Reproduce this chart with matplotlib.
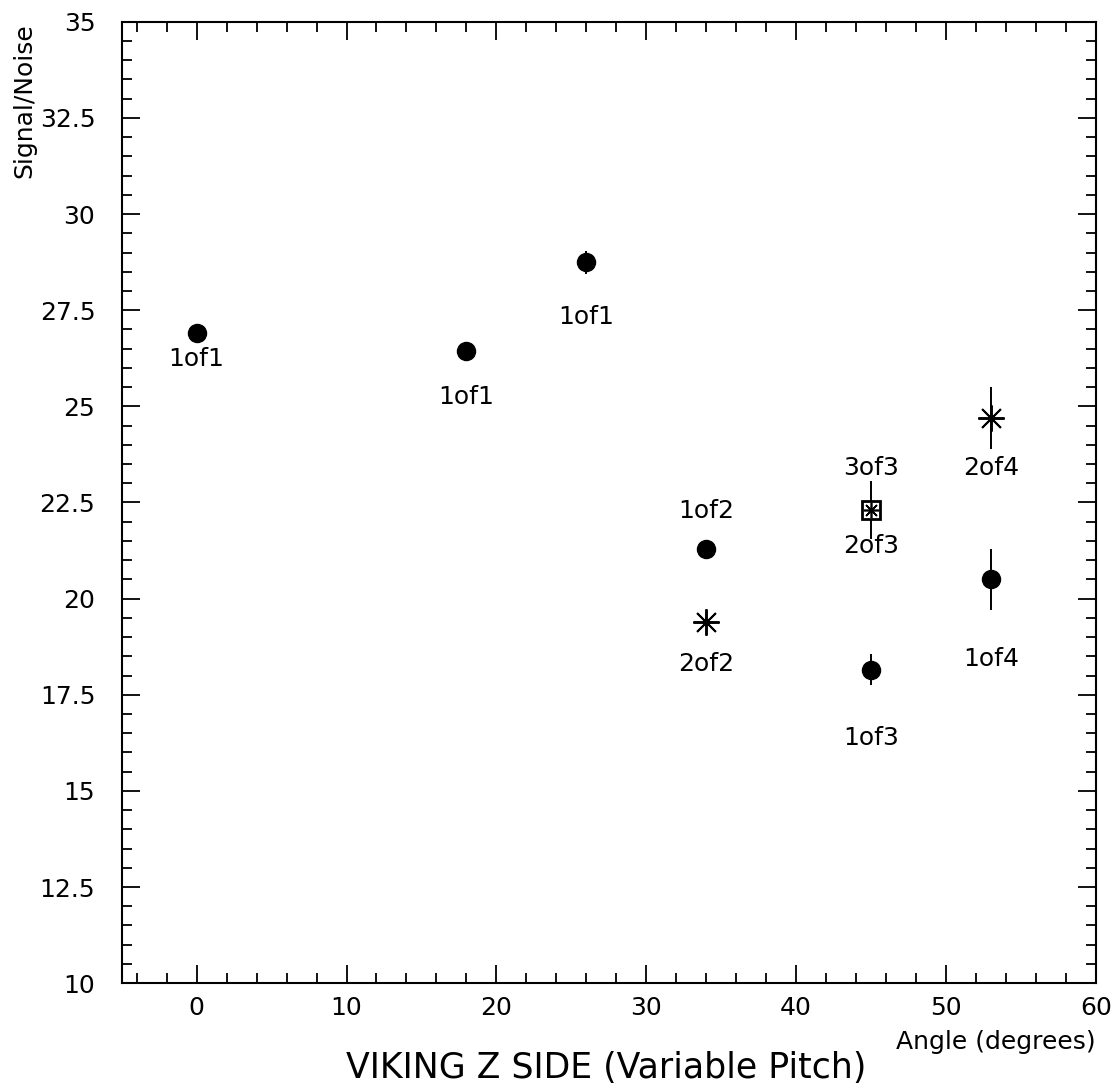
import matplotlib
matplotlib.use('Agg')
import matplotlib.pyplot as plt
from matplotlib.ticker import MultipleLocator

# données
angle_rond = [0, 18, 26, 34, 45, 53]
sn_rond = [26.9, 26.45, 28.75, 21.3, 18.15, 20.5]
err_rond = [0.25, 0.15, 0.3, 0.2, 0.4, 0.8]
etiq_rond = ['1of1', '1of1', '1of1', '1of2', '1of3', '1of4']
decal_rond = [-26, -46, -55, 38, -68, -80]

angle_etoile = [34, 53]
sn_etoile = [19.4, 24.7]
err_etoile = [0.1, 0.8]
etiq_etoile = ['2of2', '2of4']
decal_etoile = [-42, -50]

angle_boite = [45]
sn_boite = [22.3]
err_boite = [0.75]
etiq_boite = ['2of3']
decal_boite = [-36]
etiq_boite_haut = '3of3'

fig = plt.figure(figsize=(11.17, 10.90), dpi=100)
ax = fig.add_axes([0.109, 0.098, 0.872, 0.882])

# points ronds
ax.errorbar(angle_rond, sn_rond, yerr=err_rond, fmt='o', color='black',
            markersize=13, elinewidth=1.4, capsize=0)
# étoiles
ax.errorbar(angle_etoile, sn_etoile, yerr=err_etoile, fmt='none', ecolor='black',
            elinewidth=1.4, capsize=0)
ax.plot(angle_etoile, sn_etoile, linestyle='none', marker=(8, 2, 0),
        markersize=19, color='black', markeredgewidth=1.4)
# carré avec étoile
ax.errorbar(angle_boite, sn_boite, yerr=err_boite, fmt='none', ecolor='black',
            elinewidth=1.4, capsize=0)
ax.plot(angle_boite, sn_boite, linestyle='none', marker='s', markersize=13,
        markerfacecolor='white', markeredgecolor='black', markeredgewidth=2)
ax.plot(angle_boite, sn_boite, linestyle='none', marker=(8, 2, 0),
        markersize=11, color='black', markeredgewidth=1.2)

# étiquettes
for x, y, t, d in zip(angle_rond, sn_rond, etiq_rond, decal_rond):
    ax.annotate(t, (x, y), xytext=(0, d), textcoords='offset pixels',
                ha='center', va='center', fontsize=18)
for x, y, t, d in zip(angle_etoile, sn_etoile, etiq_etoile, decal_etoile):
    ax.annotate(t, (x, y), xytext=(0, d), textcoords='offset pixels',
                ha='center', va='center', fontsize=18)
for x, y, t, d in zip(angle_boite, sn_boite, etiq_boite, decal_boite):
    ax.annotate(t, (x, y), xytext=(0, d), textcoords='offset pixels',
                ha='center', va='center', fontsize=18)
ax.annotate(etiq_boite_haut, (angle_boite[0], sn_boite[0]), xytext=(0, 42),
            textcoords='offset pixels', ha='center', va='center', fontsize=18)

ax.set_xlim(-5, 60)
ax.set_ylim(10, 35)
ax.xaxis.set_major_locator(MultipleLocator(10))
ax.xaxis.set_minor_locator(MultipleLocator(2))
ax.yaxis.set_major_locator(MultipleLocator(2.5))
ax.yaxis.set_minor_locator(MultipleLocator(0.5))
ax.yaxis.set_major_formatter(plt.FuncFormatter(lambda v, p: f'{v:g}'))
ax.tick_params(which='both', direction='in', top=True, right=True, width=1.3,
               labelsize=18)
ax.tick_params(which='major', length=13)
ax.tick_params(which='minor', length=7.5)
ax.tick_params(axis='x', which='major', pad=9)
ax.tick_params(axis='y', which='major', pad=19)
for s in ax.spines.values():
    s.set_linewidth(1.5)

fig.text(0.981, 0.044, 'Angle (degrees)', ha='right', va='center', fontsize=18)
fig.text(0.543, 0.020, 'VIKING Z SIDE (Variable Pitch)', ha='center', va='center',
         fontsize=25)
fig.text(0.022, 0.979, 'Signal/Noise', rotation=90, ha='center', va='top',
         fontsize=18)

fig.savefig('out.png', dpi=100)
